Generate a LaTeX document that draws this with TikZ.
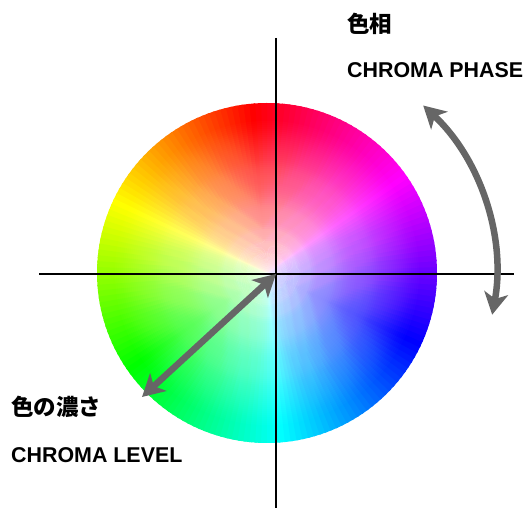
\documentclass[tikz,border=0pt]{standalone}
\usepackage{fontspec}
\setmainfont{Liberation Sans}
\newfontfamily\lat{Liberation Sans}
\newfontfamily\jp{Noto Sans CJK JP}
\usetikzlibrary{arrows.meta}
\definecolor{arrowgray}{HTML}{666666}
\tikzset{
  axisline/.style={draw=black, line width=2pt},
  bigarrow/.style={draw=arrowgray, line width=6.5pt,
    {Stealth[length=22pt,width=24pt,inset=6pt]}-{Stealth[length=22pt,width=24pt,inset=6pt]}},
  jplabel/.style={anchor=west, inner sep=0pt, font=\jp\bfseries\fontsize{22.5}{26}\selectfont},
  enlabel/.style={anchor=west, inner sep=0pt, font=\lat\bfseries\fontsize{21.4}{26}\selectfont}
}
\begin{document}
\begin{tikzpicture}[x=1pt,y=1pt]
\useasboundingbox (0,0) rectangle (528,508);
\coordinate (C) at (267,235);
\coordinate (O) at (276,234);
% colour wheel: full-saturation hue wedges (overlapping to hide seams)
\begin{scope}[shift={(C)}]
\foreach \j in {0,...,179}{
    \pgfmathsetmacro\aa{\j*2}
    \pgfmathsetmacro\ab{\j*2+2.8}
    \pgfmathsetmacro\h{mod(\j*2+1-95+720,360)}
    \convertcolorspec{Hsb}{\h,1,1}{rgb}\wcspec
    \definecolor{wc}{rgb}{\wcspec}
    \fill[wc] (0,0) -- (\aa:170) arc[start angle=\aa, end angle=\ab, radius=170] -- cycle;
}
% white towards the centre: stacked translucent discs
\foreach \k in {1,...,77}{
    \pgfmathsetmacro\sk{(2*\k-1)/153}
    \pgfmathsetmacro\sn{min(1,(2*\k+1)/153)}
    \pgfmathsetmacro\al{1-\sk/\sn}
    \fill[white, fill opacity=\al] (0,0) circle[radius=2*\k];
}
\end{scope}
% axes
\coordinate (xl) at (39,234);
\coordinate (xr) at (514,234);
\coordinate (yt) at (276,470);
\coordinate (yb) at (276,0);
\draw[axisline] (xl) -- (xr);
\draw[axisline] (yt) -- (yb);
% chroma level arrow
\coordinate (L) at (142,111);
\draw[bigarrow] (O) -- (L);
% chroma phase arrow
\draw[bigarrow] ([shift={(47:229)}]C) arc[start angle=47, end angle=-10.5, radius=229];
% labels
\node[jplabel] (t1) at (347,484) {色相};
\node[enlabel] (t2) at (347,438) {CHROMA PHASE};
\node[jplabel] (t3) at (11,101) {色の濃さ};
\node[enlabel] (t4) at (11,53) {CHROMA LEVEL};
\end{tikzpicture}
\end{document}
